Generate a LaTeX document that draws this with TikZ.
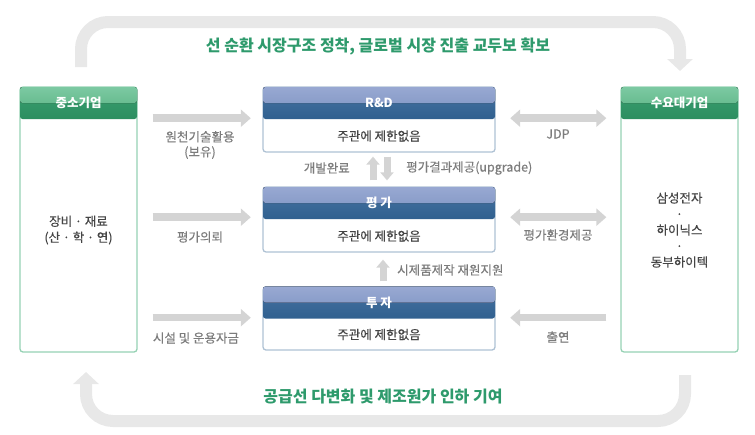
\documentclass[tikz,border=0pt]{standalone}
\usepackage{fontspec}
\setmainfont{Noto Sans CJK KR}
\newfontfamily\medfont[FakeBold=0.35]{Noto Sans CJK KR}
\usetikzlibrary{arrows.meta,calc}
\definecolor{arcc}{HTML}{E8E8E8}
\definecolor{arwc}{HTML}{D4D4D4}
\definecolor{lblc}{HTML}{7C7C7C}
\definecolor{txtc}{HTML}{454545}
\definecolor{ttlc}{HTML}{2E9A6C}
\definecolor{gborder}{HTML}{96D2B4}
\definecolor{bborder}{HTML}{AFC2D4}
\definecolor{gtop}{HTML}{7CC9A2}
\definecolor{gmidtop}{HTML}{55B07F}
\definecolor{gmid}{HTML}{3AA070}
\definecolor{gdark}{HTML}{2C8E60}
\definecolor{btop}{HTML}{98A8D2}
\definecolor{bmidtop}{HTML}{7A92C0}
\definecolor{bmid}{HTML}{4874A3}
\definecolor{bdark}{HTML}{30608F}
\tikzset{
  gbox/.style={draw=gborder, line width=1.3pt, fill=white, rounded corners=3pt, minimum width=117pt, minimum height=265pt, inner sep=0pt},
  bbox/.style={draw=bborder, line width=1.3pt, fill=white, rounded corners=3pt, minimum width=232pt, inner sep=0pt},
  ghead/.style={rounded corners=2.5pt, minimum width=117pt, minimum height=32pt, inner sep=0pt, text=white,
    font=\bfseries\fontsize{12.5}{14}\selectfont, top color=gmid, bottom color=gdark,
    path picture={\fill[top color=gtop, bottom color=gmidtop] (path picture bounding box.north west) rectangle (path picture bounding box.east);}},
  bhead/.style={rounded corners=2.5pt, minimum width=232pt, minimum height=32pt, inner sep=0pt, text=white,
    font=\bfseries\fontsize{12.5}{14}\selectfont, top color=bmid, bottom color=bdark,
    path picture={\fill[top color=btop, bottom color=bmidtop] (path picture bounding box.north west) rectangle (path picture bounding box.east);}},
  body/.style={text=txtc, font=\medfont\fontsize{12.5}{16}\selectfont, align=center, inner sep=0pt},
  sidebody/.style={text=txtc, font=\medfont\fontsize{12.5}{16}\selectfont, align=center, inner sep=0pt},
  lbl/.style={text=lblc, font=\medfont\fontsize{12.5}{15}\selectfont, align=center, inner sep=0pt},
  ttl/.style={text=ttlc, font=\bfseries\fontsize{16}{18}\selectfont, inner sep=0pt},
  harrow/.style={draw=arwc, line width=7.5pt, -{Triangle[width=17pt,length=10pt]}},
  harrows/.style={draw=arwc, line width=7.5pt, {Triangle[width=17pt,length=10pt]}-{Triangle[width=17pt,length=10pt]}},
  varrow/.style={draw=arwc, line width=7pt, -{Triangle[width=13pt,length=8pt]}},
  loop/.style={draw=arcc, line width=12pt, rounded corners=27pt},
  looptip/.style={-{Triangle[width=25pt,length=12pt]}}
}
\begin{document}
\begin{tikzpicture}[x=1pt,y=-1pt]
\useasboundingbox (0,0) rectangle (755,434);

% loops
\coordinate (ta) at (81,67);
\coordinate (tb) at (81,22);
\coordinate (tc) at (680,22);
\coordinate (td) at (680,71);
\draw[loop, looptip] (ta) -- (tb) -- (tc) -- (td);
\coordinate (ba) at (685,375);
\coordinate (bb) at (685,421);
\coordinate (bc) at (86,421);
\coordinate (bd) at (86,372);
\draw[loop, looptip] (ba) -- (bb) -- (bc) -- (bd);

\node[ttl] (toptitle) at (378,47) {선 순환 시장구조 정착, 글로벌 시장 진출 교두보 확보};
\node[ttl] (bottitle) at (383,397) {공급선 다변화 및 제조원가 인하 기여};

% side boxes
\node[gbox] (smebox) at (78.5,219.5) {};
\node[ghead] (smehead) at (78.5,103) {중소기업};
\node[sidebody] (smebody) at (78.5,230) {장비 · 재료\\(산 · 학 · 연)};

\node[gbox] (dmdbox) at (679.5,219.5) {};
\node[ghead] (dmdhead) at (679.5,103) {수요대기업};
\node[sidebody] (dmdbody) at (679.5,230) {삼성전자\\·\\하이닉스\\·\\동부하이텍};

% middle boxes
\node[bbox, minimum height=65pt] (rdbox) at (379,119.5) {};
\node[bhead] (rdhead) at (379,103) {R\&D};
\node[body] (rdbody) at (379,136) {주관에 제한없음};

\node[bbox, minimum height=65pt] (pgbox) at (379,219.5) {};
\node[bhead] (pghead) at (379,203) {평 가};
\node[body] (pgbody) at (379,236) {주관에 제한없음};

\node[bbox, minimum height=63pt] (tjbox) at (379,318.5) {};
\node[bhead] (tjhead) at (379,302.5) {투 자};
\node[body] (tjbody) at (379,334.5) {주관에 제한없음};

% left arrows
\draw[harrow] ($(smebox.east |- rdhead.south)+(15,-1)$) -- ($(rdhead.south west)+(-12,-1)$);
\draw[harrow] ($(smebox.east |- pghead.south)+(15,-2)$) -- ($(pghead.south west)+(-12,-2)$);
\draw[harrow] ($(smebox.east |- tjhead.south)+(15,-1)$) -- ($(tjhead.south west)+(-12,-1)$);
\node[lbl] (l1) at (200,145) {원천기술활용\\(보유)};
\node[lbl] (l2) at (200,237) {평가의뢰};
\node[lbl] (l3) at (196,338) {시설 및 운용자금};

% right arrows
\draw[harrows] ($(rdhead.south east)+(15,-1)$) -- ($(dmdbox.west |- rdhead.south)+(-14,-1)$);
\draw[harrows] ($(pghead.south east)+(15,-2)$) -- ($(dmdbox.west |- pghead.south)+(-14,-2)$);
\draw[harrow] ($(dmdbox.west |- tjhead.south)+(-14,-1)$) -- ($(tjhead.south east)+(15,-1)$);
\node[lbl] (r1) at (558,134) {JDP};
\node[lbl] (r2) at (558,235) {평가환경제공};
\node[lbl] (r3) at (558,337) {출연};

% vertical arrows
\draw[varrow] ($(pgbox.north)+(-6,-6)$) -- ($(rdbox.south)+(-6,4)$);
\draw[varrow] ($(rdbox.south)+(8,4)$) -- ($(pgbox.north)+(8,-6)$);
\draw[varrow] ($(tjbox.north)+(4,-5)$) -- ($(pgbox.south)+(4,7)$);
\node[lbl, anchor=east] (m1) at (350,168) {개발완료};
\node[lbl, anchor=west] (m2) at (406,168) {평가결과제공(upgrade)};
\node[lbl, anchor=west] (m3) at (397,270) {시제품제작 재원지원};
\end{tikzpicture}
\end{document}
